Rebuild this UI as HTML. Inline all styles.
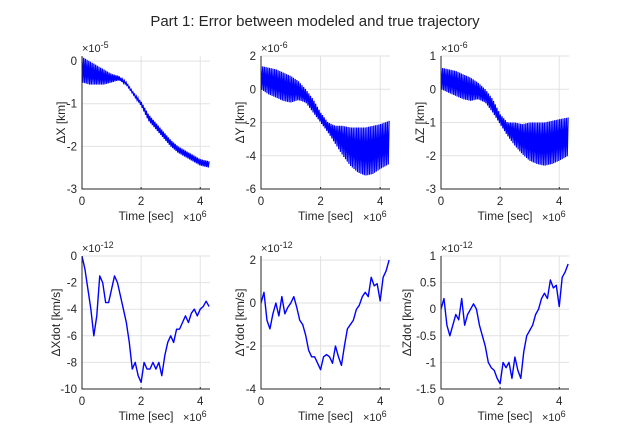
<!DOCTYPE html>
<html><head><meta charset="utf-8"><style>
body{margin:0;background:#fff;width:629px;height:438px;overflow:hidden}
svg{display:block;font-family:"Liberation Sans",sans-serif}
</style></head><body>
<svg id="fig" width="629" height="438">
<text x="315" y="26" text-anchor="middle" font-size="15" fill="#262626">Part 1: Error between modeled and true trajectory</text>
</svg>
<script>
const tEnv=[0,0.25,0.5,0.75,1,1.25,1.5,1.75,2,2.25,2.5,2.75,3,3.25,3.5,3.75,4,4.3];
const xUpper=[0.1,0,-0.1,-0.2,-0.3,-0.35,-0.5,-0.75,-0.95,-1.25,-1.45,-1.65,-1.85,-2.0,-2.1,-2.2,-2.3,-2.35];
const xLower=[-0.5,-0.55,-0.55,-0.55,-0.5,-0.45,-0.55,-0.8,-1.05,-1.4,-1.6,-1.8,-2.0,-2.15,-2.25,-2.35,-2.45,-2.5];
const yUpper=[1.4,1.3,1.2,1.0,0.8,0.5,0.0,-0.6,-1.4,-2.0,-2.2,-2.2,-2.3,-2.3,-2.3,-2.2,-2.1,-1.9];
const yLower=[0.0,-0.3,-0.5,-0.7,-0.8,-0.65,-0.8,-1.4,-2.0,-2.6,-3.3,-4.0,-4.6,-5.0,-5.2,-5.1,-4.8,-4.5];
const zUpper=[0.65,0.6,0.55,0.45,0.35,0.2,0.0,-0.3,-0.75,-1.0,-1.0,-1.05,-1.0,-1.0,-1.0,-0.95,-0.9,-0.85];
const zLower=[0,-0.1,-0.2,-0.3,-0.35,-0.3,-0.4,-0.7,-1.05,-1.4,-1.7,-1.95,-2.15,-2.25,-2.3,-2.25,-2.15,-2.0];
const tVel=[0,0.1,0.2,0.3,0.4,0.5,0.6,0.7,0.8,0.9,1.0,1.1,1.2,1.3,1.4,1.5,1.6,1.7,1.8,1.9,2.0,2.1,2.2,2.3,2.4,2.5,2.6,2.7,2.8,2.9,3.0,3.1,3.2,3.3,3.4,3.5,3.6,3.7,3.8,3.9,4.0,4.1,4.2,4.3];
const xdot=[0,-1,-2.5,-4,-6,-4.5,-1.5,-2,-3.5,-3.5,-2.5,-1.5,-2,-3,-4,-5,-6.5,-8.5,-8,-9,-9.5,-8,-8.5,-8.5,-8,-8.5,-8,-9,-7.5,-6.5,-6,-6.5,-5.5,-5.5,-5,-4.5,-5,-4.3,-4,-4.5,-4,-3.8,-3.4,-3.8];
const ydot=[0,0.5,-0.8,-1.2,-0.5,0,-0.6,0.3,-0.5,-0.2,0,0.3,-0.2,-0.8,-1.0,-1.5,-2.2,-2.5,-2.5,-2.8,-3.1,-2.5,-2.4,-2.5,-2.8,-2.0,-2.5,-2.9,-2.0,-1.2,-1.0,-0.8,-0.3,-0.1,0.3,0.5,0.3,1.2,0.8,0.9,0.1,1.2,1.5,2.0];
const zdot=[0,0.2,-0.3,-0.5,-0.3,-0.1,-0.2,0.2,-0.3,-0.1,0,0.1,0,-0.3,-0.5,-0.7,-1.0,-1.1,-1.15,-1.3,-1.4,-1.0,-1.1,-1.0,-1.3,-0.9,-1.15,-1.3,-0.8,-0.5,-0.4,-0.3,-0.1,0,0.2,0.3,0.2,0.55,0.4,0.45,0.05,0.6,0.7,0.85];
const xTicks=[0,2,4];
const NS="http://www.w3.org/2000/svg";
const svg=document.getElementById('fig');
function mk(tag,attrs,parent){const e=document.createElementNS(NS,tag);for(const k in attrs)e.setAttribute(k,attrs[k]);(parent||svg).appendChild(e);return e;}
function interp(ts,vs,t){for(let i=1;i<ts.length;i++){if(t<=ts[i]){const f=(t-ts[i-1])/(ts[i]-ts[i-1]);return vs[i-1]+f*(vs[i]-vs[i-1]);}}return vs[vs.length-1];}
const panels=[
 {x0:82,y0:56,w:128,h:133,ymin:-3,ymax:0.12,yt:[0,-1,-2,-3],yl:['0','-1','-2','-3'],exp:'-5',lab:'ΔX [km]',name:'dx',env:[xUpper,xLower],lo:17},
 {x0:261,y0:56,w:129,h:133,ymin:-6,ymax:2,yt:[2,0,-2,-4,-6],yl:['2','0','-2','-4','-6'],exp:'-6',lab:'ΔY [km]',name:'dy',env:[yUpper,yLower],lo:17},
 {x0:441,y0:56,w:128,h:133,ymin:-3,ymax:1,yt:[1,0,-1,-2,-3],yl:['1','0','-1','-2','-3'],exp:'-6',lab:'ΔZ [km]',name:'dz',env:[zUpper,zLower],lo:17},
 {x0:82,y0:256,w:128,h:133,ymin:-10,ymax:0,yt:[0,-2,-4,-6,-8,-10],yl:['0','-2','-4','-6','-8','-10'],exp:'-12',lab:'ΔXdot [km/s]',name:'dxdot',line:xdot,lo:22},
 {x0:261,y0:256,w:129,h:133,ymin:-4,ymax:2.19,yt:[2,0,-2,-4],yl:['2','0','-2','-4'],exp:'-12',lab:'ΔYdot [km/s]',name:'dydot',line:ydot,lo:17},
 {x0:441,y0:256,w:128,h:133,ymin:-1.5,ymax:1,yt:[1,0.5,0,-0.5,-1,-1.5],yl:['1','0.5','0','-0.5','-1','-1.5'],exp:'-12',lab:'ΔZdot [km/s]',name:'dzdot',line:zdot,lo:30}
];
const XMAX=4.33;
panels.forEach(p=>{
 const g=mk('g',{});
 
 
 const sx=t=>p.x0+t/XMAX*p.w, sy=v=>p.y0+(p.ymax-v)/(p.ymax-p.ymin)*p.h;
 mk('rect',{x:p.x0,y:p.y0,width:p.w,height:p.h,fill:'#fff'},g);
 xTicks.forEach(t=>{mk('line',{x1:sx(t),x2:sx(t),y1:p.y0,y2:p.y0+p.h,stroke:'#e2e2e2','stroke-width':1},g);
  const tx=mk('text',{x:sx(t),y:p.y0+p.h+16,'text-anchor':'middle','font-size':11.5,fill:'#262626'},g);tx.textContent=t;
  
  mk('line',{x1:sx(t),x2:sx(t),y1:p.y0+p.h,y2:p.y0+p.h-2,stroke:'#262626'},g);});
 p.yt.forEach((v,i)=>{mk('line',{x1:p.x0,x2:p.x0+p.w,y1:sy(v),y2:sy(v),stroke:'#e2e2e2'},g);
  const tx=mk('text',{x:p.x0-5,y:sy(v)+4,'text-anchor':'end','font-size':11.5,fill:'#262626'},g);tx.textContent=p.yl[i];
  });
 const clip=mk('clipPath',{id:'c'+p.name},g);mk('rect',{x:p.x0,y:p.y0,width:p.w,height:p.h},clip);
 if(p.env){
  const [up,lo]=p.env;let pts=[];
  for(let i=0;i<=150;i++){const t=i/150*4.3;pts.push(sx(t)+','+sy(interp(tEnv,i%2?lo:up,t)));}
  const pl=mk('polyline',{points:pts.join(' '),fill:'none',stroke:'#0000ff','stroke-width':1.2,'clip-path':'url(#c'+p.name+')'},g);
  
 } else {
  const pts=tVel.map((t,i)=>sx(t)+','+sy(p.line[i])).join(' ');
  const pl=mk('polyline',{points:pts,fill:'none',stroke:'#0000ff','stroke-width':1.4,'stroke-linejoin':'round','clip-path':'url(#c'+p.name+')'},g);
  
 }
 mk('path',{d:`M${p.x0} ${p.y0}V${p.y0+p.h}H${p.x0+p.w}`,fill:'none',stroke:'#262626','stroke-width':1},g);
 const e=mk('text',{x:p.x0,y:p.y0-4,'font-size':11,fill:'#262626'},g);e.innerHTML='×10<tspan dy="-4" font-size="9">'+p.exp+'</tspan>';
 
 const xe=mk('text',{x:p.x0+p.w-27,y:p.y0+p.h+32,'font-size':11,fill:'#262626'},g);xe.innerHTML='×10<tspan dy="-4" font-size="9">6</tspan>';
 
 const xl=mk('text',{x:p.x0+p.w/2,y:p.y0+p.h+31,'text-anchor':'middle','font-size':12,fill:'#262626'},g);xl.textContent='Time [sec]';
 
 const yx=p.x0-p.lo;
 const yl=mk('text',{x:yx,y:p.y0+p.h/2,'text-anchor':'middle','font-size':12,fill:'#262626',transform:`rotate(-90 ${yx} ${p.y0+p.h/2})`},g);yl.textContent=p.lab;
 
});
</script>
</body></html>
